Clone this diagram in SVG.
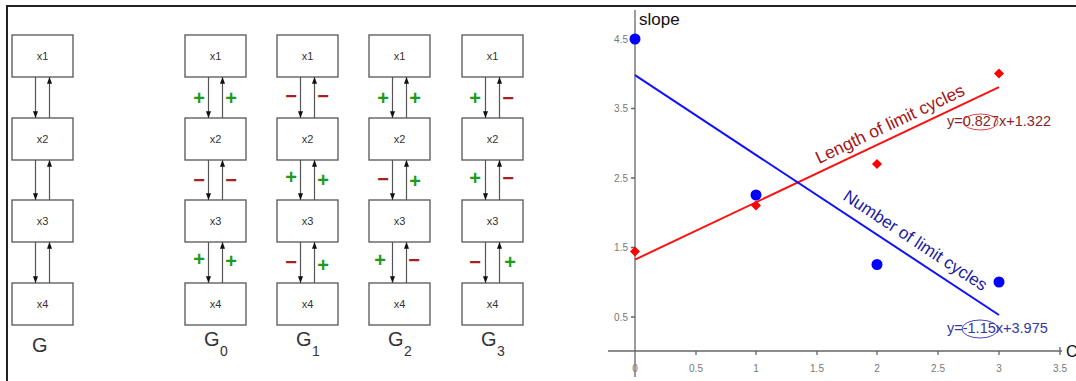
<svg xmlns="http://www.w3.org/2000/svg" width="1076" height="381" viewBox="0 0 1076 381">
<style>
.bx{fill:#fff;stroke:#555;stroke-width:1.3}
.bt{font-family:"Liberation Sans",Arial,sans-serif;font-size:11px;fill:#333;text-anchor:middle}
.ar{stroke:#555;stroke-width:1.2;fill:none;marker-end:url(#ah)}
.p{font-family:"Liberation Sans",Arial,sans-serif;font-size:20px;font-weight:bold;fill:#1e9a1e;text-anchor:middle}
.m{font-family:"Liberation Sans",Arial,sans-serif;font-size:20px;font-weight:bold;fill:#a52020;text-anchor:middle}
.gl{font-family:"Liberation Sans",Arial,sans-serif;font-size:20px;fill:#333}
.gs{font-family:"Liberation Sans",Arial,sans-serif;font-size:14px;fill:#333}
.tk{font-family:"Liberation Sans",Arial,sans-serif;font-size:10px;fill:#777}
.tx{text-anchor:middle}
.ty{text-anchor:end}
.ax{stroke:#666;stroke-width:1.3;fill:none}
</style>
<defs>
<marker id="ah" viewBox="0 0 8 6" refX="8" refY="3" markerWidth="8" markerHeight="5" markerUnits="userSpaceOnUse" orient="auto">
<path d="M0,0 L8,3 L0,6 z" fill="#111"/>
</marker>
</defs>
<rect width="1076" height="381" fill="#fff"/>
<path d="M7,381 V6 H1076" fill="none" stroke="#222" stroke-width="2"/>

<g id="G">
<g id="G_x1"><rect class="bx" x="12" y="35" width="61" height="42"/><text class="bt" x="42.5" y="60">x1</text></g>
<g id="G_x2"><rect class="bx" x="12" y="118" width="61" height="42"/><text class="bt" x="42.5" y="143">x2</text></g>
<g id="G_x3"><rect class="bx" x="12" y="200" width="61" height="42"/><text class="bt" x="42.5" y="225">x3</text></g>
<g id="G_x4"><rect class="bx" x="12" y="283" width="61" height="42"/><text class="bt" x="42.5" y="308">x4</text></g>
<text class="gl" x="32" y="352">G</text>
</g>

<g id="G0">
<g id="G0_x1"><rect class="bx" x="185" y="35" width="61" height="42"/><text class="bt" x="215.5" y="60">x1</text></g>
<g id="G0_x2"><rect class="bx" x="185" y="118" width="61" height="42"/><text class="bt" x="215.5" y="143">x2</text></g>
<g id="G0_x3"><rect class="bx" x="185" y="200" width="61" height="42"/><text class="bt" x="215.5" y="225">x3</text></g>
<g id="G0_x4"><rect class="bx" x="185" y="283" width="61" height="42"/><text class="bt" x="215.5" y="308">x4</text></g>
<text class="gl" x="204" y="346">G</text><text class="gs" x="220" y="356">0</text>
</g>

<g id="G1">
<g id="G1_x1"><rect class="bx" x="277" y="35" width="61" height="42"/><text class="bt" x="307.5" y="60">x1</text></g>
<g id="G1_x2"><rect class="bx" x="277" y="118" width="61" height="42"/><text class="bt" x="307.5" y="143">x2</text></g>
<g id="G1_x3"><rect class="bx" x="277" y="200" width="61" height="42"/><text class="bt" x="307.5" y="225">x3</text></g>
<g id="G1_x4"><rect class="bx" x="277" y="283" width="61" height="42"/><text class="bt" x="307.5" y="308">x4</text></g>
<text class="gl" x="296" y="346">G</text><text class="gs" x="312" y="356">1</text>
</g>

<g id="G2">
<g id="G2_x1"><rect class="bx" x="369" y="35" width="61" height="42"/><text class="bt" x="399.5" y="60">x1</text></g>
<g id="G2_x2"><rect class="bx" x="369" y="118" width="61" height="42"/><text class="bt" x="399.5" y="143">x2</text></g>
<g id="G2_x3"><rect class="bx" x="369" y="200" width="61" height="42"/><text class="bt" x="399.5" y="225">x3</text></g>
<g id="G2_x4"><rect class="bx" x="369" y="283" width="61" height="42"/><text class="bt" x="399.5" y="308">x4</text></g>
<text class="gl" x="388" y="346">G</text><text class="gs" x="404" y="356">2</text>
</g>

<g id="G3">
<g id="G3_x1"><rect class="bx" x="462" y="35" width="61" height="42"/><text class="bt" x="492.5" y="60">x1</text></g>
<g id="G3_x2"><rect class="bx" x="462" y="118" width="61" height="42"/><text class="bt" x="492.5" y="143">x2</text></g>
<g id="G3_x3"><rect class="bx" x="462" y="200" width="61" height="42"/><text class="bt" x="492.5" y="225">x3</text></g>
<g id="G3_x4"><rect class="bx" x="462" y="283" width="61" height="42"/><text class="bt" x="492.5" y="308">x4</text></g>
<text class="gl" x="481" y="346">G</text><text class="gs" x="497" y="356">3</text>
</g>

<g id="connectors">
<path class="ar" d="M35.5,77 V118"/><path class="ar" d="M49.5,118 V77"/>
<path class="ar" d="M35.5,160 V200"/><path class="ar" d="M49.5,200 V160"/>
<path class="ar" d="M35.5,242 V283"/><path class="ar" d="M49.5,283 V242"/>
<path class="ar" d="M208.5,77 V118"/><path class="ar" d="M222.5,118 V77"/>
<path class="ar" d="M208.5,160 V200"/><path class="ar" d="M222.5,200 V160"/>
<path class="ar" d="M208.5,242 V283"/><path class="ar" d="M222.5,283 V242"/>
<path class="ar" d="M300.5,77 V118"/><path class="ar" d="M314.5,118 V77"/>
<path class="ar" d="M300.5,160 V200"/><path class="ar" d="M314.5,200 V160"/>
<path class="ar" d="M300.5,242 V283"/><path class="ar" d="M314.5,283 V242"/>
<path class="ar" d="M392.5,77 V118"/><path class="ar" d="M406.5,118 V77"/>
<path class="ar" d="M392.5,160 V200"/><path class="ar" d="M406.5,200 V160"/>
<path class="ar" d="M392.5,242 V283"/><path class="ar" d="M406.5,283 V242"/>
<path class="ar" d="M485.5,77 V118"/><path class="ar" d="M499.5,118 V77"/>
<path class="ar" d="M485.5,160 V200"/><path class="ar" d="M499.5,200 V160"/>
<path class="ar" d="M485.5,242 V283"/><path class="ar" d="M499.5,283 V242"/>
</g>

<g id="signs">
<text class="p" x="199" y="105">+</text><text class="p" x="231" y="105">+</text>
<text class="m" x="199" y="187">−</text><text class="m" x="231" y="187">−</text>
<text class="p" x="199" y="266">+</text><text class="p" x="231" y="268">+</text>
<text class="m" x="291" y="103">−</text><text class="m" x="323" y="103">−</text>
<text class="p" x="291" y="184">+</text><text class="p" x="323" y="187">+</text>
<text class="m" x="291" y="269">−</text><text class="p" x="323" y="272">+</text>
<text class="p" x="383" y="105">+</text><text class="p" x="415" y="105">+</text>
<text class="m" x="383" y="186">−</text><text class="p" x="415" y="188">+</text>
<text class="p" x="380" y="267">+</text><text class="m" x="414" y="267">−</text>
<text class="p" x="475" y="105">+</text><text class="m" x="508" y="105">−</text>
<text class="p" x="475" y="185">+</text><text class="m" x="508" y="185">−</text>
<text class="m" x="475" y="269">−</text><text class="p" x="510" y="269">+</text>
</g>

<g id="chart">
<path class="ax" d="M635,10 V377"/>
<path class="ax" d="M608,351 H1062"/>
<path class="ax" d="M631,39 H635 M631,108.5 H635 M631,178 H635 M631,247.5 H635 M631,317 H635"/>
<path class="ax" d="M696,351 V355 M756,351 V355 M817,351 V355 M877,351 V355 M938,351 V355 M999,351 V355 M1060,347 V355"/>
<text class="tk ty" x="628" y="42.5">4.5</text>
<text class="tk ty" x="628" y="112">3.5</text>
<text class="tk ty" x="628" y="181.5">2.5</text>
<text class="tk ty" x="628" y="251">1.5</text>
<text class="tk ty" x="628" y="320.5">0.5</text>
<text class="tk tx" x="635" y="372">0</text>
<text class="tk tx" x="696" y="372">0.5</text>
<text class="tk tx" x="756" y="372">1</text>
<text class="tk tx" x="817" y="372">1.5</text>
<text class="tk tx" x="877" y="372">2</text>
<text class="tk tx" x="938" y="372">2.5</text>
<text class="tk tx" x="999" y="372">3</text>
<text class="tk tx" x="1060" y="372">3.5</text>
<text x="639" y="25" font-family="Liberation Sans, Arial, sans-serif" font-size="17" fill="#111">slope</text>
<text x="1066" y="357" font-family="Liberation Sans, Arial, sans-serif" font-size="16" fill="#111">C</text>

<line x1="635" y1="259.6" x2="999" y2="87.2" stroke="#ff1010" stroke-width="2"/>
<line x1="635" y1="75.2" x2="999" y2="315" stroke="#1010ff" stroke-width="2"/>

<g fill="#0000ff">
<circle cx="635" cy="39" r="5.5"/>
<circle cx="756" cy="195" r="5.5"/>
<circle cx="877" cy="264.5" r="5.5"/>
<circle cx="999" cy="282" r="5.5"/>
</g>
<g fill="#ff0000">
<path d="M635,246.5 L640,251.5 L635,256.5 L630,251.5 z"/>
<path d="M756,200.5 L761,205.5 L756,210.5 L751,205.5 z"/>
<path d="M877,159 L882,164 L877,169 L872,164 z"/>
<path d="M999,68.5 L1004,73.5 L999,78.5 L994,73.5 z"/>
</g>

<text transform="translate(819,164) rotate(-25.3)" font-family="Liberation Sans, Arial, sans-serif" font-size="17.5" fill="#a31515">Length of limit cycles</text>
<text transform="translate(842,199) rotate(33.4)" font-family="Liberation Sans, Arial, sans-serif" font-size="17.2" fill="#1c1ca0">Number of limit cycles</text>

<text x="947" y="126" font-family="Liberation Sans, Arial, sans-serif" font-size="14.5" fill="#8b2525">y=0.827x+1.322</text>
<ellipse cx="980.5" cy="122" rx="17.5" ry="8" fill="none" stroke="#e03030" stroke-width="0.9"/>
<text x="947" y="333" font-family="Liberation Sans, Arial, sans-serif" font-size="14.5" fill="#3535a5">y=-1.15x+3.975</text>
<ellipse cx="980" cy="329" rx="18" ry="9" fill="none" stroke="#3030c0" stroke-width="0.9"/>
</g>
</svg>
